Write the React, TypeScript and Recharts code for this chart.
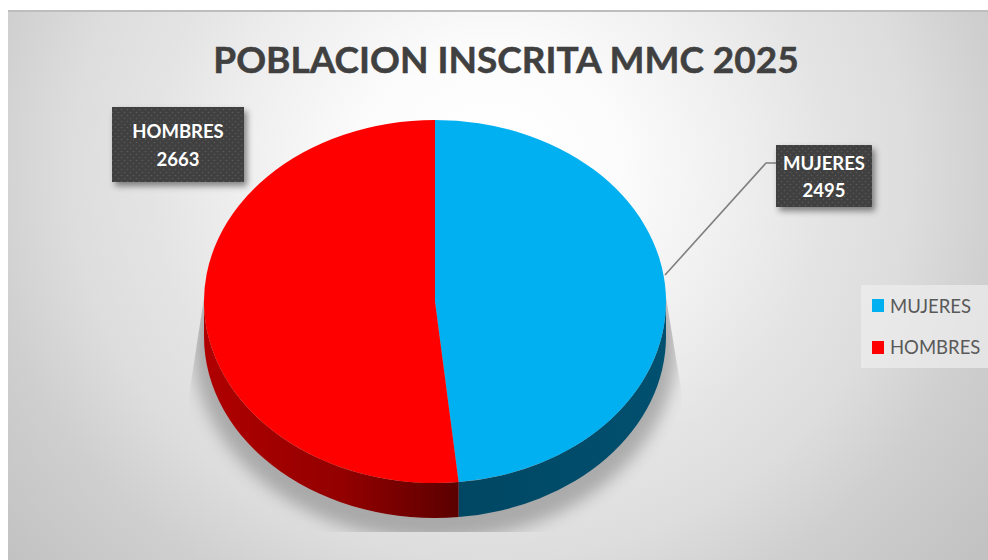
import { PieChart, Pie, Legend, Sector } from 'recharts'

const categories = ['MUJERES', 'HOMBRES']
const values = [2495, 2663]
const topColors = ['#00b0f0', '#ff0000']
const wallFills = ['url(#wallBlue)', 'url(#wallRed)']

const TILT = 0.786
const DEPTH = 35
const FONT = 'Lato, Carlito, sans-serif'

const tableData = categories.map((name, i) => ({ name, value: values[i], fill: topColors[i] }))

function Slice3D(props: any) {
  const { cx, cy, outerRadius, startAngle, endAngle, fill, name } = props
  const rx = outerRadius
  const ry = outerRadius * TILT
  const hi = Math.min(Math.max(startAngle, endAngle), 0)
  const lo = Math.max(Math.min(startAngle, endAngle), -180)
  const px = (a: number) => cx + rx * Math.cos((a * Math.PI) / 180)
  const py = (a: number) => cy - ry * Math.sin((a * Math.PI) / 180)
  const wall =
    `M${px(hi)},${py(hi)} A${rx},${ry} 0 0 1 ${px(lo)},${py(lo)} ` +
    `L${px(lo)},${py(lo) + DEPTH} A${rx},${ry} 0 0 0 ${px(hi)},${py(hi) + DEPTH} Z`
  return (
    <g>
      {hi > lo && <path d={wall} fill={wallFills[categories.indexOf(name)]} />}
      <g transform={`translate(0 ${cy}) scale(1 ${TILT}) translate(0 ${-cy})`}>
        <Sector
          cx={cx}
          cy={cy}
          innerRadius={0}
          outerRadius={outerRadius}
          startAngle={startAngle}
          endAngle={endAngle}
          fill={fill}
        />
      </g>
    </g>
  )
}

const boxes: Record<string, { x: number; y: number; w: number; h: number }> = {
  MUJERES: { x: 776, y: 145, w: 96, h: 62 },
  HOMBRES: { x: 112, y: 107, w: 132, h: 75 },
}

function renderLabel(props: any) {
  const { name, value } = props
  const b = boxes[name]
  const mid = b.x + b.w / 2
  const first = name === 'MUJERES' ? b.y + 25 : b.y + 31
  const second = name === 'MUJERES' ? b.y + 52 : b.y + 59
  return (
    <g>
      {name === 'MUJERES' && (
        <polyline points="665,275 766,163 776,163" fill="none" stroke="#7f7f7f" strokeWidth={1.6} />
      )}
      <rect x={b.x} y={b.y} width={b.w} height={b.h} fill="#404040" filter="url(#boxShadow)" />
      <rect x={b.x} y={b.y} width={b.w} height={b.h} fill="url(#dots)" />
      <text x={mid} y={first} textAnchor="middle" fill="#fff" fontFamily={FONT} fontWeight={700} fontSize={18.5}>
        {name}
      </text>
      <text x={mid} y={second} textAnchor="middle" fill="#fff" fontFamily={FONT} fontWeight={700} fontSize={18.5}>
        {value}
      </text>
    </g>
  )
}

function LegendBox({ payload }: any) {
  return (
    <div
      style={{
        width: 127,
        height: 83,
        background: 'rgba(238,238,238,0.7)',
        boxSizing: 'border-box',
        paddingLeft: 11,
      }}
    >
      {(payload || []).map((item: any) => (
        <div key={item.value} style={{ display: 'flex', alignItems: 'center', height: 41.5 }}>
          <span style={{ width: 12, height: 13, background: item.color, marginRight: 6 }} />
          <span style={{ fontFamily: FONT, fontSize: 18.5, color: '#595959' }}>{item.value}</span>
        </div>
      ))}
    </div>
  )
}

export default function App() {
  return (
    <div style={{ position: 'absolute', left: 0, top: 0, width: 988, height: 560, background: '#fff', overflow: 'hidden' }}>
      <div
        style={{
          position: 'absolute',
          left: 8,
          top: 10,
          width: 980,
          height: 550,
          borderTop: '2px solid #bdbdbd',
          boxSizing: 'border-box',
          background:
            'radial-gradient(ellipse 638px 593px at 482px 158px, #ffffff 0%, #fcfcfc 20%, #eeeeee 40%, #e4e4e4 53%, #dddddd 66%, #cfcfcf 80%, #c2c2c2 100%)',
        }}
      />
      <div style={{ position: 'absolute', left: 0, top: 0 }}>
        <PieChart width={988} height={560} margin={{ top: 0, right: 0, bottom: 0, left: 0 }}>
          <defs>
            <linearGradient id="wallRed" gradientUnits="userSpaceOnUse" x1="204" y1="0" x2="460" y2="0">
              <stop offset="0%" stopColor="#b00000" />
              <stop offset="55%" stopColor="#920000" />
              <stop offset="100%" stopColor="#5a0000" />
            </linearGradient>
            <linearGradient id="wallBlue" gradientUnits="userSpaceOnUse" x1="460" y1="0" x2="666" y2="0">
              <stop offset="0%" stopColor="#004763" />
              <stop offset="100%" stopColor="#01506f" />
            </linearGradient>
            <pattern id="dots" width="6" height="6" patternUnits="userSpaceOnUse">
              <circle cx="1.5" cy="1.5" r="0.8" fill="#595959" />
              <circle cx="4.5" cy="4.5" r="0.8" fill="#595959" />
            </pattern>
            <filter id="boxShadow" x="-20%" y="-20%" width="140%" height="150%">
              <feDropShadow dx="3" dy="4" stdDeviation="3" floodColor="#000" floodOpacity="0.45" />
            </filter>
            <filter id="pieShadow" x="-10%" y="-10%" width="120%" height="120%">
              <feGaussianBlur stdDeviation="8" />
            </filter>
            <clipPath id="shadowClip">
              <polygon points="206,285 189,395 189,532 682,532 682,395 664,285" />
            </clipPath>
          </defs>
          <g clipPath="url(#shadowClip)">
            <ellipse cx={435} cy={345} rx={242} ry={195} fill="#8c8c8c" opacity={0.65} filter="url(#pieShadow)" />
          </g>
          <text
            x={506}
            y={73}
            textAnchor="middle"
            fill="#404040"
            stroke="#404040"
            strokeWidth={0.5}
            fontFamily={FONT}
            fontWeight={700}
            fontSize={37}
          >
            POBLACION INSCRITA MMC 2025
          </text>
          <Pie
            data={tableData}
            dataKey="value"
            nameKey="name"
            cx={435}
            cy={301.5}
            innerRadius={0}
            outerRadius={231}
            startAngle={90}
            endAngle={-270}
            stroke="none"
            shape={Slice3D}
            label={renderLabel}
            labelLine={false}
            isAnimationActive={false}
          />
          <Legend
            content={<LegendBox />}
            layout="vertical"
            align="right"
            verticalAlign="top"
            itemSorter={null}
            wrapperStyle={{ left: 861, top: 285, width: 127, height: 83 }}
          />
        </PieChart>
      </div>
    </div>
  )
}
